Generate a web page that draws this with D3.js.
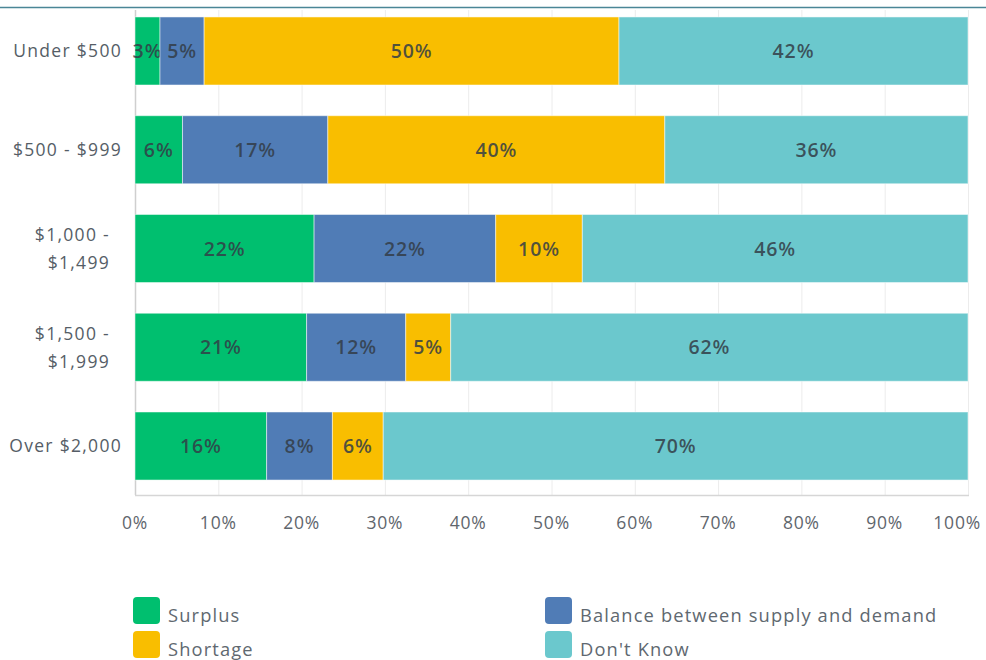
<!DOCTYPE html>
<html>
<head>
<meta charset="utf-8">
<script src="https://cdn.jsdelivr.net/npm/d3@7/dist/d3.min.js"></script>
<style>
  html, body { margin: 0; padding: 0; background: #fff; }
  svg { display: block; font-family: "Open Sans", "Noto Sans", sans-serif; }
</style>
</head>
<body>
<svg id="chart" width="986" height="660"></svg>
<script>
// Monthly cost brackets and share of responses per answer (percent)
const categories = ["Under $500", "$500 - $999", "$1,000 - $1,499", "$1,500 - $1,999", "Over $2,000"];
const categoryLines = [["Under $500"], ["$500 - $999"], ["$1,000 -", "$1,499"], ["$1,500 -", "$1,999"], ["Over $2,000"]];
const seriesNames = ["Surplus", "Balance between supply and demand", "Shortage", "Don't Know"];
const surplus  = [3.0, 5.7, 21.5, 20.6, 15.8];
const balance  = [5.3, 17.45, 21.8, 11.9, 7.9];
const shortage = [49.8, 40.45, 10.4, 5.4, 6.1];
const dontKnow = [41.9, 36.4, 46.3, 62.1, 70.2];
const tickValues = [0, 10, 20, 30, 40, 50, 60, 70, 80, 90, 100];
const colors = ["#00bf6f", "#507cb6", "#f9be00", "#6bc8cd"];

const seriesValues = [surplus, balance, shortage, dontKnow];
const rows = categories.map((c, i) => {
  const r = { category: c };
  seriesNames.forEach((s, j) => { r[s] = seriesValues[j][i]; });
  return r;
});

const svg = d3.select("#chart");
const width = 986;
const plotLeft = 135, plotRight = 968, plotTop = 10, plotBottom = 495;

const x = d3.scaleLinear().domain([0, 100]).range([plotLeft, plotRight]);
const y = d3.scaleBand().domain(categories).range([6, 491]).paddingInner(0.311).paddingOuter(0.111);

// header rule
svg.append("line").attr("x1", 0).attr("x2", width).attr("y1", 7.5).attr("y2", 7.5)
  .attr("stroke", "#4a8696").attr("stroke-width", 1.6);

// vertical grid
svg.append("g").selectAll("line").data(tickValues).join("line")
  .attr("x1", d => x(d) + 0.5).attr("x2", d => x(d) + 0.5)
  .attr("y1", plotTop).attr("y2", plotBottom)
  .attr("stroke", d => d === 0 ? "#cfcfcf" : "#ececec").attr("stroke-width", d => d === 0 ? 1.5 : 1);

// bottom axis line
svg.append("line").attr("x1", x(0)).attr("x2", x(100) + 1).attr("y1", plotBottom + 0.5).attr("y2", plotBottom + 0.5)
  .attr("stroke", "#d6d6d6").attr("stroke-width", 1.5);

// stacked bars
const layers = d3.stack().keys(seriesNames)(rows);

const layerG = svg.append("g").selectAll("g").data(layers).join("g")
  .attr("fill", (d, i) => colors[i]);

layerG.selectAll("rect").data(d => d).join("rect")
  .attr("x", d => x(d[0]))
  .attr("y", d => y(d.data.category))
  .attr("width", d => x(d[1]) - x(d[0]))
  .attr("height", y.bandwidth())
  .attr("stroke", "#ffffff").attr("stroke-opacity", 0.5).attr("stroke-width", 1);

// value labels
layerG.selectAll("text").data(d => d).join("text")
  .attr("x", d => (x(d[0]) + x(d[1])) / 2)
  .attr("y", d => y(d.data.category) + y.bandwidth() / 2)
  .attr("dy", "0.36em")
  .attr("text-anchor", "middle")
  .attr("font-size", 19.5).attr("font-weight", 600)
  .attr("letter-spacing", 0.9)
  .attr("fill", "#333d47")
  .attr("fill-opacity", 0.85)
  .text(d => Math.round(d[1] - d[0]) + "%");

// category labels
const catG = svg.append("g").selectAll("text").data(categories).join("text")
  .attr("text-anchor", "end")
  .attr("font-size", 17.5)
  .attr("letter-spacing", 1.3)
  .attr("fill", "#555d66")
  .attr("transform", d => `translate(122,${y(d) + y.bandwidth() / 2})`);
catG.each(function (d, i) {
  const lines = categoryLines[i];
  const t = d3.select(this);
  lines.forEach((ln, k) => {
    t.append("tspan").attr("x", lines.length > 1 ? -12 : 0)
      .attr("y", (k - (lines.length - 1) / 2) * 28)
      .attr("dy", "0.36em").text(ln);
  });
});

// x tick labels (the last one kept inside the frame)
svg.append("g").selectAll("text").data(tickValues).join("text")
  .attr("x", d => d === 100 ? width - 5 : x(d))
  .attr("y", 523)
  .attr("dy", "0.36em")
  .attr("text-anchor", d => d === 100 ? "end" : "middle")
  .attr("font-size", 17.5)
  .attr("letter-spacing", 0.8)
  .attr("fill", "#5f666d")
  .text(d => d + "%");

// legend
const legendPos = [[133, 597], [545, 597], [133, 631], [545, 631]];
const leg = svg.append("g").selectAll("g").data(seriesNames).join("g")
  .attr("transform", (d, i) => `translate(${legendPos[i][0]},${legendPos[i][1]})`);
leg.append("rect").attr("width", 27).attr("height", 27).attr("rx", 4)
  .attr("fill", (d, i) => colors[i]);
leg.append("text").attr("x", 35).attr("y", 18).attr("dy", "0.36em")
  .attr("font-size", 18.3).attr("fill", "#606870")
  .attr("letter-spacing", 1.15)
  .text(d => d);
</script>
</body>
</html>
